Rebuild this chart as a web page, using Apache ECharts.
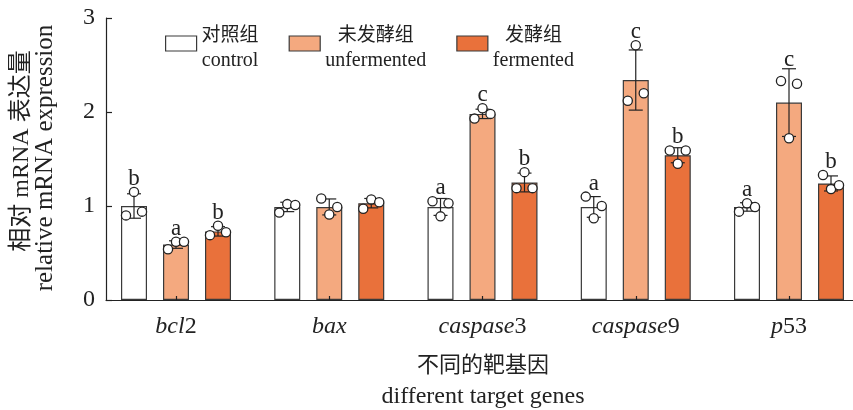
<!DOCTYPE html>
<html>
<head>
<meta charset="utf-8">
<script src="https://cdn.jsdelivr.net/npm/echarts@6/dist/echarts.min.js"></script>
<style>
html,body{margin:0;padding:0;background:#fff}
#chart{width:853px;height:410px}
</style>
</head>
<body>
<div id="chart"></div>
<script>
// Target genes: italic stem + upright suffix
const GENE_ITALIC = ['bcl', 'bax', 'caspase', 'caspase', 'p'];
const GENE_SUFFIX = ['2', '', '3', '9', '53'];

// Treatment groups
const GROUP_CN = ['对照组', '未发酵组', '发酵组'];
const GROUP_EN = ['control', 'unfermented', 'fermented'];

// Axis titles
const Y_TITLE_CN = '相对 mRNA 表达量';
const Y_TITLE_EN = 'relative mRNA expression';
const X_TITLE_CN = '不同的靶基因';
const X_TITLE_EN = 'different target genes';

const Y_TICKS = [0, 1, 2, 3];

// Mean relative expression per gene
const MEAN_CONTROL     = [1.00, 0.99, 0.99, 0.99, 0.99];
const MEAN_UNFERMENTED = [0.59, 0.99, 1.98, 2.34, 2.10];
const MEAN_FERMENTED   = [0.73, 1.03, 1.25, 1.54, 1.24];

// Standard deviations
const SD_CONTROL     = [0.13, 0.05, 0.09, 0.11, 0.045];
const SD_UNFERMENTED = [0.04, 0.085, 0.05, 0.32, 0.36];
const SD_FERMENTED   = [0.05, 0.05, 0.10, 0.08, 0.08];

// Individual replicates (three per bar)
const PTS_CONTROL     = [[0.90, 1.15, 0.94], [0.93, 1.02, 1.01], [1.05, 0.89, 1.03], [1.10, 0.87, 1.00], [0.94, 1.03, 0.99]];
const PTS_UNFERMENTED = [[0.54, 0.62, 0.62], [1.08, 0.91, 0.99], [1.93, 2.04, 1.98], [2.12, 2.71, 2.20], [2.33, 1.72, 2.30]];
const PTS_FERMENTED   = [[0.69, 0.79, 0.72], [0.97, 1.07, 1.04], [1.19, 1.36, 1.19], [1.59, 1.45, 1.59], [1.33, 1.18, 1.22]];

// Significance letters
const SIG_CONTROL     = ['b', '', 'a', 'a', 'a'];
const SIG_UNFERMENTED = ['a', '', 'c', 'c', 'c'];
const SIG_FERMENTED   = ['b', '', 'b', 'b', 'b'];

// ---- styling / layout ----
const FONT = '"Liberation Serif", "Times New Roman", "Noto Sans CJK SC", serif';
const CJK = '"Noto Sans CJK SC", sans-serif';
const INK = '#222';
const EDGE = '#3a3a3a';
const FILLS = ['#ffffff', '#f4a97f', '#e9713b'];
const BAR_W = 26;
const BAR_GAP_PX = 16;
const BAR_STEP = BAR_W + BAR_GAP_PX;
const JITTER = [-8, 0, 8];
const DOT_R = 4.6;
const CAP_HALF = 7;

const MEANS = [MEAN_CONTROL, MEAN_UNFERMENTED, MEAN_FERMENTED];
const SDS = [SD_CONTROL, SD_UNFERMENTED, SD_FERMENTED];
const PTS = [PTS_CONTROL, PTS_UNFERMENTED, PTS_FERMENTED];
const SIGS = [SIG_CONTROL, SIG_UNFERMENTED, SIG_FERMENTED];
const GENE_IDX = GENE_ITALIC.map((_, i) => i);

function barSeries(k) {
  return {
    type: 'bar',
    name: GROUP_CN[k],
    barWidth: BAR_W,
    barGap: (BAR_GAP_PX / BAR_W * 100) + '%',
    itemStyle: { color: FILLS[k], borderColor: EDGE, borderWidth: 1.2 },
    emphasis: { disabled: true },
    data: MEANS[k].map((m, i) => [i, m]),
    z: 2
  };
}

// Error bars, replicate dots and letters drawn on top of each bar
function overlaySeries(k) {
  return {
    type: 'custom',
    name: GROUP_EN[k] + ' detail',
    silent: true,
    z: 5,
    encode: { x: 0, y: 1 },
    data: MEANS[k].map((m, i) => [i, m, SDS[k][i]]),
    renderItem(params, api) {
      const i = api.value(0), m = api.value(1), s = api.value(2);
      const cx = api.coord([i, m])[0] + (k - 1) * BAR_STEP;
      const yHi = api.coord([i, m + s])[1];
      const yLo = api.coord([i, m - s])[1];
      const ls = { stroke: INK, lineWidth: 1.2 };
      const children = [
        { type: 'line', shape: { x1: cx, y1: yHi, x2: cx, y2: yLo }, style: ls },
        { type: 'line', shape: { x1: cx - CAP_HALF, y1: yHi, x2: cx + CAP_HALF, y2: yHi }, style: ls },
        { type: 'line', shape: { x1: cx - CAP_HALF, y1: yLo, x2: cx + CAP_HALF, y2: yLo }, style: ls }
      ];
      let top = yHi;
      PTS[k][i].forEach((v, j) => {
        const y = api.coord([i, v])[1];
        children.push({
          type: 'circle',
          shape: { cx: cx + JITTER[j], cy: y, r: DOT_R },
          style: { fill: '#fff', stroke: INK, lineWidth: 1.3 }
        });
        top = Math.min(top, y - DOT_R);
      });
      const letter = SIGS[k][i];
      if (letter) {
        children.push({
          type: 'text',
          style: {
            text: letter, x: cx, y: top + 3,
            align: 'center', verticalAlign: 'bottom',
            fontSize: 23, fontFamily: FONT, fill: INK
          }
        });
      }
      return { type: 'group', children };
    }
  };
}

const chart = echarts.init(document.getElementById('chart'), null, { renderer: 'canvas' });

chart.setOption({
  animation: false,
  backgroundColor: '#fff',
  grid: { left: 106, right: 0, top: 18, bottom: 110, containLabel: false, outerBoundsMode: 'none' },
  // Rotated two-line y-axis title
  graphic: [
    {
      type: 'text', x: 22, y: 151, rotation: Math.PI / 2, silent: true,
      style: { text: Y_TITLE_CN, align: 'center', verticalAlign: 'middle', fontSize: 24, fontFamily: FONT, fill: INK }
    },
    {
      type: 'text', x: 45, y: 158, rotation: Math.PI / 2, silent: true,
      style: { text: Y_TITLE_EN, align: 'center', verticalAlign: 'middle', fontSize: 25, fontFamily: FONT, fill: INK }
    }
  ],
  legend: {
    data: GROUP_CN,
    left: 165,
    top: 24,
    padding: 0,
    icon: 'rect',
    itemWidth: 31,
    itemHeight: 15,
    itemGap: 30,
    selectedMode: false,
    itemStyle: { borderColor: EDGE, borderWidth: 1.2 },
    formatter: name => {
      const k = GROUP_CN.indexOf(name);
      return '{c|' + GROUP_CN[k] + '}\n{t|' + GROUP_EN[k] + '}';
    },
    textStyle: {
      padding: [7, 0, 0, 0],
      rich: {
        c: { fontSize: 19, fontFamily: CJK, color: INK, lineHeight: 27, align: 'center' },
        t: { fontSize: 20, fontFamily: FONT, color: INK, lineHeight: 27, align: 'center' }
      }
    }
  },
  xAxis: {
    type: 'value',
    z: 3,
    min: -0.4568,
    max: 4.4176,
    splitLine: { show: false },
    axisLine: { show: true, onZero: false, lineStyle: { color: INK, width: 1.2 } },
    axisTick: { show: true, inside: true, length: 4, customValues: GENE_IDX, lineStyle: { color: INK, width: 1.2 } },
    axisLabel: {
      customValues: GENE_IDX,
      margin: 15,
      formatter: v => {
        const i = Math.round(v);
        return '{i|' + GENE_ITALIC[i] + '}' + (GENE_SUFFIX[i] ? '{n|' + GENE_SUFFIX[i] + '}' : '');
      },
      rich: {
        i: { fontSize: 24, fontFamily: FONT, fontStyle: 'italic', color: INK },
        n: { fontSize: 24, fontFamily: FONT, color: INK }
      }
    },
    name: '{cn|' + X_TITLE_CN + '}\n{en|' + X_TITLE_EN + '}',
    nameLocation: 'middle',
    nameGap: 47,
    nameTextStyle: {
      align: 'center',
      padding: [0, 0, 0, 7],
      rich: {
        cn: { fontSize: 22, fontFamily: CJK, color: INK, lineHeight: 33, align: 'center' },
        en: { fontSize: 24, fontFamily: FONT, color: INK, lineHeight: 33, align: 'center' }
      }
    }
  },
  yAxis: {
    type: 'value',
    min: Y_TICKS[0],
    max: Y_TICKS[Y_TICKS.length - 1],
    interval: 1,
    splitLine: { show: false },
    axisLine: { show: true, onZero: false, lineStyle: { color: INK, width: 1.2 } },
    axisTick: { show: true, inside: true, length: 6, lineStyle: { color: INK, width: 1.2 } },
    axisLabel: { fontSize: 24, fontFamily: FONT, color: INK, margin: 11 }
  },
  series: [0, 1, 2].map(barSeries).concat([0, 1, 2].map(overlaySeries))
});
</script>
</body>
</html>
